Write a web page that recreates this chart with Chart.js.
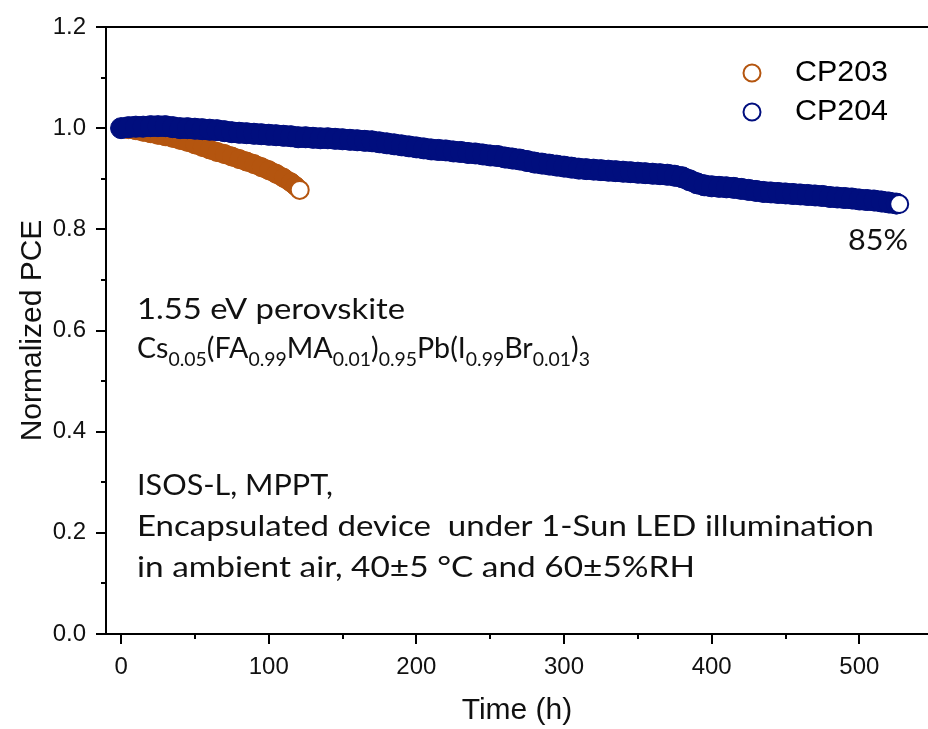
<!DOCTYPE html>
<html><head><meta charset="utf-8">
<script src="https://cdn.jsdelivr.net/npm/chart.js@4/dist/chart.umd.min.js"></script>
<style>html,body{margin:0;padding:0;background:#fff;overflow:hidden}canvas{display:block}</style>
</head><body>
<canvas id="c" width="928" height="729"></canvas>
<script>
// ---------------- data ----------------
const seriesNames = ['CP203', 'CP204'];
const cp203Time  = [0,5,10,15,20,25,30,35,40,45,50,55,60,65,70,75,80,85,90,95,100,105,110,115,118,121];
const cp203Value = [1.000,0.998,0.996,0.993,0.990,0.987,0.984,0.981,0.977,0.973,0.968,0.963,0.958,0.953,0.949,0.944,0.939,0.934,0.929,0.923,0.917,0.910,0.902,0.893,0.886,0.878];
const cp204Time  = [0,5,10,15,20,25,30,35,40,45,50,55,60,65,70,75,80,85,90,95,100,105,110,115,120,125,130,135,140,145,150,155,160,165,170,175,180,185,190,195,200,205,210,215,220,225,230,235,240,245,250,255,260,265,270,275,280,285,290,295,300,305,310,315,320,325,330,335,340,345,350,355,360,365,370,375,380,385,390,395,400,405,410,415,420,425,430,435,440,445,450,455,460,465,470,475,480,485,490,495,500,505,510,515,520,525,527];
const cp204Value = [1.000,1.002,1.003,1.003,1.004,1.004,1.004,1.002,1.000,1.000,0.999,0.998,0.997,0.996,0.994,0.992,0.991,0.990,0.989,0.988,0.987,0.986,0.985,0.984,0.982,0.982,0.981,0.980,0.980,0.979,0.978,0.977,0.976,0.975,0.974,0.972,0.970,0.968,0.966,0.964,0.962,0.960,0.958,0.957,0.956,0.954,0.953,0.951,0.950,0.948,0.946,0.945,0.942,0.940,0.938,0.935,0.932,0.930,0.928,0.926,0.924,0.922,0.920,0.919,0.918,0.917,0.916,0.915,0.914,0.913,0.912,0.911,0.910,0.909,0.908,0.906,0.903,0.897,0.891,0.887,0.885,0.884,0.883,0.882,0.880,0.878,0.876,0.874,0.873,0.872,0.871,0.870,0.869,0.868,0.867,0.866,0.864,0.863,0.862,0.861,0.859,0.858,0.857,0.855,0.853,0.851,0.850];
const xTickValues = [0,100,200,300,400,500];
const xMinorValues = [50,150,250,350,450];
const yTickLabels = ['0.0','0.2','0.4','0.6','0.8','1.0','1.2'];
const yMinorValues = [0.1,0.3,0.5,0.7,0.9,1.1];
const xTitle = 'Time (h)';
const yTitle = 'Normalized PCE';
const endLabel = '85%';
const noteLine1 = '1.55 eV perovskite';
const formulaParts = [['Cs',0],['0.05',1],['(FA',0],['0.99',1],['MA',0],['0.01',1],[')',0],['0.95',1],['Pb(I',0],['0.99',1],['Br',0],['0.01',1],[')',0],['3',1]];
const noteLines2 = ['ISOS-L, MPPT,', 'Encapsulated device  under 1-Sun LED illumination', 'in ambient air, 40\u00b15 \u00b0C and 60\u00b15%RH'];

// ---------------- styles ----------------
const ORANGE = '#B4550F';
const NAVY = '#000E7E';
const colors = [ORANGE, NAVY];
const bandWidths = [19, 21];
const TICKFONT = '"Liberation Sans", Arial, sans-serif';
const NOTEFONT = 'Lato, "Open Sans", sans-serif';

function pts(t, v){ return t.map((x,i)=>({x:x, y:v[i]})); }
function ds(i, t, v, order){
  const last = t.length - 1;
  return {
    label: seriesNames[i],
    data: pts(t, v),
    order: order,
    showLine: true,
    borderColor: colors[i],
    borderWidth: bandWidths[i],
    borderCapStyle: 'butt',
    borderJoinStyle: 'round',
    pointRadius: ctx => ctx.dataIndex === last ? 9 : bandWidths[i] / 2,
    pointBorderWidth: ctx => ctx.dataIndex === last ? 2 : 1,
    pointBorderColor: colors[i],
    pointBackgroundColor: ctx => ctx.dataIndex === last ? '#ffffff' : colors[i],
    tension: 0
  };
}

function fitText(ctx, text, x, y, targetW, font, align){
  ctx.save();
  ctx.font = font;
  const w = ctx.measureText(text).width;
  const s = targetW ? targetW / w : 1;
  ctx.translate(x, y);
  ctx.scale(s, 1);
  ctx.textAlign = align || 'left';
  ctx.fillText(text, 0, 0);
  ctx.restore();
}

const decor = {
  id: 'decor',
  afterDraw(chart){
    const ctx = chart.ctx;
    const ca = chart.chartArea;
    const xs = chart.scales.x, ys = chart.scales.y;
    ctx.save();
    ctx.strokeStyle = '#000';
    ctx.lineWidth = 2;
    // top frame line
    ctx.beginPath(); ctx.moveTo(ca.left, ca.top); ctx.lineTo(chart.width, ca.top); ctx.stroke();
    // minor ticks
    xMinorValues.forEach(v => { const px = Math.round(xs.getPixelForValue(v)); ctx.beginPath(); ctx.moveTo(px, ca.bottom); ctx.lineTo(px, ca.bottom + 5); ctx.stroke(); });
    yMinorValues.forEach(v => { const py = Math.round(ys.getPixelForValue(v)); ctx.beginPath(); ctx.moveTo(ca.left, py); ctx.lineTo(ca.left - 5, py); ctx.stroke(); });
    // legend
    ctx.textBaseline = 'middle';
    ctx.fillStyle = '#000';
    seriesNames.forEach((n, i) => {
      const cy = 73 + i * 39;
      ctx.beginPath(); ctx.arc(752, cy, 8.5, 0, Math.PI*2);
      ctx.fillStyle = '#fff'; ctx.fill();
      ctx.lineWidth = 2; ctx.strokeStyle = colors[i]; ctx.stroke();
      ctx.fillStyle = '#000';
      fitText(ctx, n, 795, cy, 93, '29px ' + TICKFONT);
    });
    // annotations
    ctx.textBaseline = 'alphabetic';
    ctx.fillStyle = '#111';
    const big = '28px ' + NOTEFONT, small = '19px ' + NOTEFONT;
    fitText(ctx, noteLine1, 137, 319, 268, big);
    // formula with subscripts
    ctx.save();
    let tot = 0;
    formulaParts.forEach(p => { ctx.font = p[1] ? small : big; tot += ctx.measureText(p[0]).width; });
    const sc = 453 / tot;
    ctx.translate(137, 358); ctx.scale(sc, 1);
    let xx = 0;
    formulaParts.forEach(p => { ctx.font = p[1] ? small : big; ctx.fillText(p[0], xx, p[1] ? 8 : 0); xx += ctx.measureText(p[0]).width; });
    ctx.restore();
    const widths = [196, 737, 558];
    noteLines2.forEach((t, i) => fitText(ctx, t, 137, 495 + i * 41, widths[i], big));
    // 85% label
    fitText(ctx, endLabel, 908, 250, 60, big, 'right');
    ctx.restore();
  }
};

new Chart(document.getElementById('c'), {
  type: 'scatter',
  data: { datasets: [ ds(0, cp203Time, cp203Value, 1), ds(1, cp204Time, cp204Value, 0) ] },
  options: {
    responsive: false,
    animation: false,
    devicePixelRatio: 1,
    layout: { autoPadding: false, padding: { top: 27, right: 0, left: 0, bottom: 0 } },
    plugins: { legend: { display: false }, tooltip: { enabled: false } },
    scales: {
      x: {
        type: 'linear', min: -10.2, max: 546.5,
        afterFit: s => { s.height = 95; s.paddingRight = 0; s.paddingLeft = 0; },
        afterBuildTicks: s => { s.ticks = xTickValues.map(v => ({ value: v })); },
        border: { display: true, color: '#000', width: 2 },
        grid: { display: true, drawOnChartArea: false, drawTicks: true, tickLength: 10, color: '#000', lineWidth: 2 },
        ticks: { color: '#111', font: { family: TICKFONT, size: 24 }, padding: 9, maxRotation: 0, callback: v => String(v) },
        title: { display: true, text: xTitle, color: '#111', font: { family: TICKFONT, size: 30 }, padding: { top: 0, bottom: 0 } }
      },
      y: {
        type: 'linear', min: 0, max: 1.2,
        afterFit: s => { s.width = 106; },
        afterBuildTicks: s => { s.ticks = yTickLabels.map(l => ({ value: parseFloat(l) })); },
        border: { display: true, color: '#000', width: 2 },
        grid: { display: true, drawOnChartArea: false, drawTicks: true, tickLength: 10, color: '#000', lineWidth: 2 },
        ticks: { color: '#111', font: { family: TICKFONT, size: 24 }, padding: 10, callback: (v) => yTickLabels[Math.round(v * 5)] },
        title: { display: true, text: yTitle, color: '#111', font: { family: TICKFONT, size: 30 }, padding: { top: 15, bottom: 0 } }
      }
    }
  },
  plugins: [decor]
});
</script>
</body></html>
